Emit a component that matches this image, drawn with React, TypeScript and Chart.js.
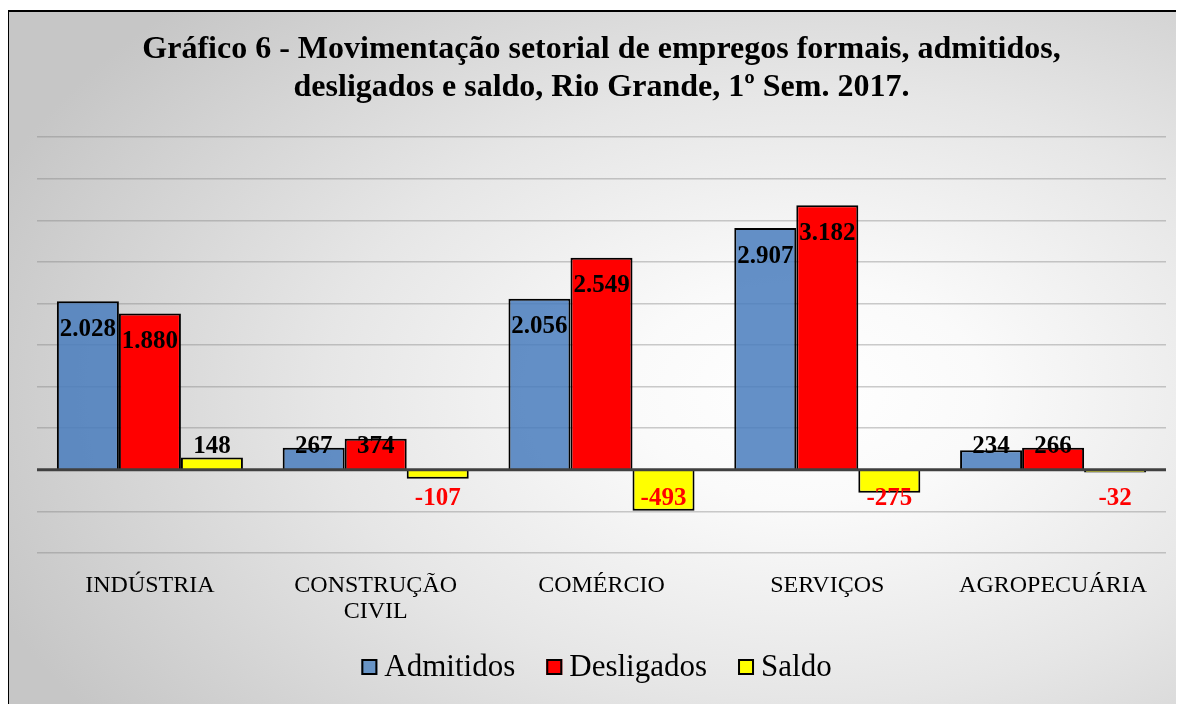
import React, { useEffect, useRef } from "react";
import { Chart, registerables } from "chart.js";

Chart.register(...registerables);

const categories: string[][] = [
  ["INDÚSTRIA"],
  ["CONSTRUÇÃO", "CIVIL"],
  ["COMÉRCIO"],
  ["SERVIÇOS"],
  ["AGROPECUÁRIA"],
];
const admitidos = [2028, 267, 2056, 2907, 234];
const desligados = [1880, 374, 2549, 3182, 266];
const saldo = [148, -107, -493, -275, -32];
const seriesNames = ["Admitidos", "Desligados", "Saldo"];
const titleLines = [
  "Gráfico 6 - Movimentação setorial de empregos formais, admitidos,",
  "desligados e saldo, Rio Grande, 1º Sem. 2017.",
];
const yMin = -1000;
const yMax = 4000;
const yStep = 500;

const SERIF = '"Liberation Serif", "Times New Roman", serif';

function fmt(v: number): string {
  const s = Math.abs(v)
    .toString()
    .replace(/\B(?=(\d{3})+(?!\d))/g, ".");
  return (v < 0 ? "-" : "") + s;
}

const labelPlugin = {
  id: "barLabels",
  afterDatasetsDraw(chart: any) {
    const ctx = chart.ctx;
    const yScale = chart.scales.y;
    const area = chart.chartArea;
    const yZero = yScale.getPixelForValue(0);
    ctx.save();
    ctx.strokeStyle = "#404040";
    ctx.lineWidth = 3;
    ctx.beginPath();
    ctx.moveTo(area.left, yZero);
    ctx.lineTo(area.right, yZero);
    ctx.stroke();
    ctx.restore();

    ctx.save();
    ctx.font = `bold 25px ${SERIF}`;
    ctx.textAlign = "center";
    ctx.textBaseline = "middle";
    chart.data.datasets.forEach((ds: any, di: number) => {
      const meta = chart.getDatasetMeta(di);
      meta.data.forEach((el: any, i: number) => {
        const v = ds.data[i] as number;
        let yc: number;
        if (v < 0) {
          yc = yZero + 29;
          ctx.fillStyle = "#ff0000";
        } else {
          ctx.fillStyle = "#000000";
          const h = el.base - el.y;
          yc = h > 60 ? el.y + 28 : yZero - 23;
        }
        ctx.fillText(fmt(v), el.x, yc);
      });
    });
    ctx.restore();
  },
};

const legendPlugin = {
  id: "customLegend",
  afterDraw(chart: any) {
    const ctx = chart.ctx;
    const box = 16;
    const gapText = 7;
    const gapItem = 31;
    ctx.save();
    ctx.font = `31px ${SERIF}`;
    ctx.textBaseline = "middle";
    ctx.textAlign = "left";
    const items = chart.data.datasets.map((ds: any) => ({
      text: ds.label,
      fill: ds.legendColor || ds.backgroundColor,
      w: box + gapText + ctx.measureText(ds.label).width,
    }));
    const total =
      items.reduce((s: number, it: any) => s + it.w, 0) + gapItem * (items.length - 1);
    let x = chart.width / 2 - total / 2;
    const yc = chart.height - 37;
    items.forEach((it: any) => {
      ctx.fillStyle = it.fill;
      ctx.fillRect(x, yc - box / 2, box, box);
      ctx.strokeStyle = "#000000";
      ctx.lineWidth = 2;
      ctx.strokeRect(x + 1, yc - box / 2 + 1, box - 2, box - 2);
      ctx.fillStyle = "#000000";
      ctx.fillText(it.text, x + box + gapText, yc + 1);
      x += it.w + gapItem;
    });
    ctx.restore();
  },
};

export default function App() {
  const ref = useRef<HTMLCanvasElement | null>(null);
  useEffect(() => {
    if (!ref.current) return;
    const chart = new Chart(ref.current, {
      type: "bar",
      data: {
        labels: categories as any,
        datasets: [
          {
            label: seriesNames[0],
            data: admitidos,
            backgroundColor: "rgba(73,125,189,0.85)",
            legendColor: "#6894c6",
            borderColor: "#000000",
            borderWidth: 2,
          } as any,
          {
            label: seriesNames[1],
            data: desligados,
            backgroundColor: "#ff0000",
            borderColor: "#000000",
            borderWidth: 2,
          },
          {
            label: seriesNames[2],
            data: saldo,
            backgroundColor: "#ffff00",
            borderColor: "#000000",
            borderWidth: 2,
          },
        ],
      },
      options: {
        animation: false,
        responsive: true,
        maintainAspectRatio: false,
        layout: { padding: { left: 28, right: 18, top: 0, bottom: 63 } },
        datasets: {
          bar: { categoryPercentage: 0.824, barPercentage: 1.0 },
        },
        scales: {
          x: {
            grid: { display: false, drawTicks: false },
            border: { display: false },
            ticks: {
              color: "#000000",
              font: { family: SERIF, size: 24, lineHeight: 1.08 },
              padding: 20,
              maxRotation: 0,
              autoSkip: false,
            },
            afterFit: (scale: any) => {
              scale.height = 88;
            },
          },
          y: {
            min: yMin,
            max: yMax,
            ticks: { display: false, stepSize: yStep },
            grid: {
              color: (c: any) =>
                c.tick && c.tick.value === 0 ? "rgba(0,0,0,0)" : "rgba(128,128,128,0.4)",
              lineWidth: 1.5,
              drawTicks: false,
            },
            border: { display: false },
          },
        },
        plugins: {
          title: {
            display: true,
            text: titleLines,
            color: "#000000",
            font: { family: SERIF, size: 32, weight: "bold", lineHeight: 1.19 },
            padding: { top: 19, bottom: 30 },
          },
          legend: { display: false },
          tooltip: { enabled: false },
        },
      },
      plugins: [labelPlugin, legendPlugin],
    });
    return () => chart.destroy();
  }, []);

  return (
    <div
      style={{
        marginTop: 2,
        marginLeft: -1,
        width: 1177,
        height: 694,
        boxSizing: "border-box",
        borderLeft: "2px solid #000",
        borderTop: "2px solid #000",
        background:
          "radial-gradient(ellipse 75% 80% at 68% 55%, #ffffff 0%, #fafafa 20%, #e6e6e6 55%, #c6c6c6 100%)",
        overflow: "hidden",
      }}
    >
      <div style={{ position: "relative", width: 1175, height: 692 }}>
        <canvas ref={ref} />
      </div>
    </div>
  );
}
